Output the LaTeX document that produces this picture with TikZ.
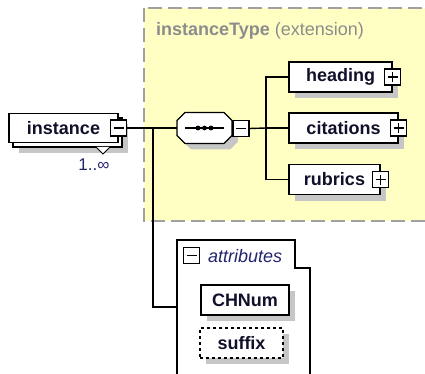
\documentclass[tikz,border=0pt]{standalone}
\usepackage{fontspec}
\setmainfont{Liberation Sans}
\definecolor{yel}{HTML}{FFFFC4}
\definecolor{bord}{HTML}{A0A0A0}
\definecolor{ttl}{HTML}{8C8C8C}
\definecolor{shd}{HTML}{C6C6C6}
\definecolor{txt}{HTML}{10102A}
\definecolor{navy}{HTML}{24246E}
\tikzset{
  conn/.style={line width=1.4pt, black},
  shadowed/.style={preaction={fill=shd, draw=none, transform canvas={shift={(6pt,-6pt)}}}},
  elemplain/.style={draw, line width=1.3pt, fill=white, minimum height=30pt, inner sep=0pt,
    font=\bfseries\fontsize{18}{20}\selectfont, text=txt},
  elembox/.style={elemplain, shadowed},
  btn/.style={draw, line width=1.1pt, fill=white, minimum size=16pt, inner sep=0pt},
  sign/.style={line width=1.3pt},
}
\newcommand{\minussign}[1]{\draw[sign] ([xshift=-5pt]#1.center) -- ([xshift=5pt]#1.center);}
\newcommand{\plussign}[1]{\draw[sign] ([xshift=-5pt]#1.center) -- ([xshift=5pt]#1.center);
  \draw[sign] ([yshift=-5pt]#1.center) -- ([yshift=5pt]#1.center);}
\begin{document}
\begin{tikzpicture}[x=1pt,y=-1pt]
\useasboundingbox (0,0) rectangle (425,374);
\clip (0,0) rectangle (425,374);
% extension area
\draw[fill=yel, draw=bord, line width=2pt, dash pattern=on 14pt off 6pt] (144,8) rectangle (440,221);
\node[anchor=base west, inner sep=0pt, text=ttl, font=\fontsize{18}{20}\selectfont] (title) at (156,36) {\textbf{instanceType} (extension)};

% coordinates for connectors
\coordinate (j) at (153,128);
\coordinate (bus) at (266,128);
\coordinate (attrin) at (177,307);

% instance element (stacked, multiple)
\draw[line width=1.3pt, fill=white, shadowed] (13,118) rectangle (122,147);
\node[elemplain, minimum width=109pt, minimum height=29pt] (instance) at (63.5,128) {instance};
\draw[line width=1pt, fill=white] (96,147) -- (103,154) -- (110,147);
\node[btn] (imin) at (instance.east) {};
\minussign{imin}
\node[font=\fontsize{17}{18}\selectfont, text=navy, inner sep=0pt] (mult) at (94,165) {1..∞};

% sequence compositor
\node[minimum width=55pt, minimum height=31pt, inner sep=0pt] (seq) at (204.5,128) {};
\draw[line width=1.3pt, fill=white, shadowed] (185,112.5) -- (224,112.5) -- (232,120.5) -- (232,135.5) -- (224,143.5) -- (185,143.5) -- (177,135.5) -- (177,120.5) -- cycle;
\draw[line width=1.2pt] (185,128) -- (224,128);
\fill (198,128) circle (2.4pt) (204.5,128) circle (2.4pt) (211,128) circle (2.4pt);
\node[btn] (smin) at (241,128.5) {};
\minussign{smin}

% connectors
\draw[conn] (imin.east) -- (seq.west);
\draw[conn] (j) |- (attrin);
\draw[conn] (smin.east) -- (bus);

% children
\node[elembox, minimum width=103pt] (heading) at (340.5,77) {heading};
\node[btn] (hp) at (heading.east) {};
\plussign{hp}
\node[elembox, minimum width=109pt] (citations) at (343.5,128) {citations};
\node[btn] (cp) at (citations.east) {};
\plussign{cp}
\node[elembox, minimum width=91pt] (rubrics) at (334.5,179.5) {rubrics};
\node[btn] (rp) at (rubrics.east) {};
\plussign{rp}
\draw[conn] (heading.west) -| (bus) |- (rubrics.west);
\draw[conn] (bus) -- (citations.west);

% attributes
\draw[line width=1.3pt, fill=white] (177,380) -- (177,240) -- (295,240) -- (295,268) -- (310,268) -- (310,380);
\node[btn] (amin) at (191.5,255.5) {};
\minussign{amin}
\node[anchor=base west, inner sep=0pt, text=navy, font=\itshape\fontsize{18}{20}\selectfont] (attrs) at (208,262) {attributes};
\node[elembox, minimum width=88pt] (chnum) at (245,300) {CHNum};
\node[elembox, dashed, minimum width=83pt] (suffix) at (241.5,343) {suffix};
\end{tikzpicture}
\end{document}
